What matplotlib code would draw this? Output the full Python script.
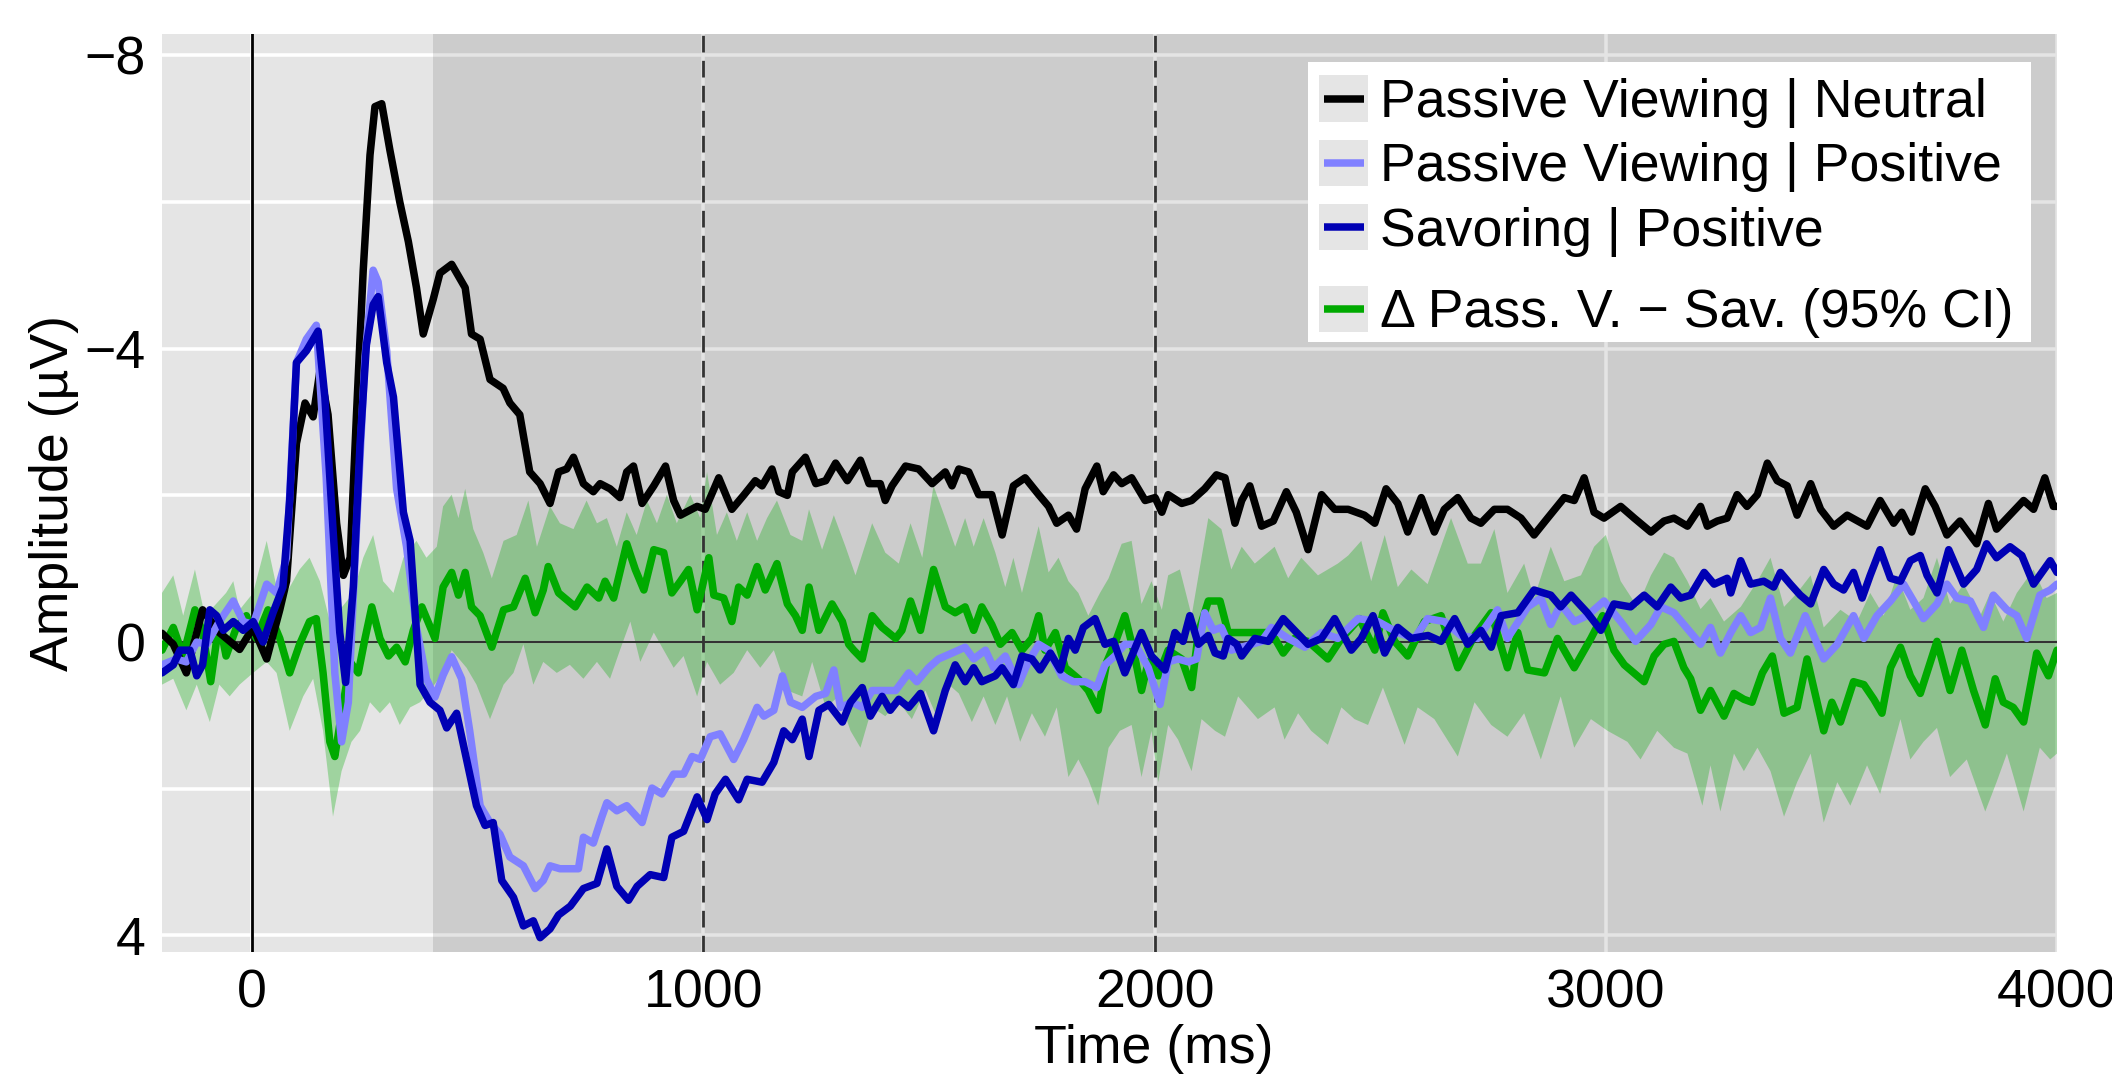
import numpy as np
import matplotlib
matplotlib.use('Agg')
import matplotlib.pyplot as plt
from matplotlib.lines import Line2D
from matplotlib.patches import Rectangle
from matplotlib.legend_handler import HandlerBase
from matplotlib.ticker import FixedLocator

plt.rcParams['font.family'] = ['Liberation Sans', 'DejaVu Sans']

# (time in ms, amplitude in uV)
neutral = [
    (-200, -0.12), (-175, 0.03), (-146, 0.42), (-110, -0.44), (-73, -0.13), (-28, 0.10), (2, -0.20),
    (32, 0.23), (61, -0.44), (76, -0.83), (98, -2.71), (117, -3.26), (135, -3.07), (150, -3.70),
    (168, -3.10), (187, -1.62), (202, -0.91), (217, -1.15), (231, -3.10), (246, -5.07), (261, -6.64),
    (272, -7.30), (287, -7.34), (305, -6.71), (327, -6.00), (346, -5.46), (364, -4.83), (379, -4.20),
    (401, -4.67), (416, -5.03), (442, -5.15), (472, -4.83), (486, -4.20), (505, -4.13), (527, -3.58),
    (556, -3.46), (571, -3.26), (593, -3.10), (615, -2.32), (638, -2.16), (660, -1.89), (679, -2.32),
    (697, -2.36), (712, -2.52), (734, -2.16), (756, -2.05), (771, -2.16), (793, -2.09), (815, -1.97),
    (830, -2.32), (845, -2.40), (864, -1.89), (890, -2.13), (916, -2.40), (934, -1.93), (949, -1.73),
    (986, -1.85), (1004, -1.81), (1034, -2.24), (1063, -1.81), (1089, -2.00), (1115, -2.20),
    (1130, -2.13), (1152, -2.36), (1167, -2.05), (1186, -2.00), (1197, -2.32), (1226, -2.52),
    (1249, -2.16), (1271, -2.20), (1293, -2.44), (1319, -2.20), (1348, -2.48), (1367, -2.16),
    (1392, -2.16), (1403, -1.93), (1418, -2.13), (1448, -2.40), (1477, -2.36), (1507, -2.16),
    (1536, -2.32), (1551, -2.13), (1566, -2.36), (1588, -2.32), (1610, -2.01), (1639, -2.01),
    (1662, -1.46), (1687, -2.13), (1713, -2.24), (1743, -2.01), (1765, -1.85), (1783, -1.62),
    (1809, -1.73), (1827, -1.54), (1846, -2.09), (1872, -2.40), (1886, -2.05), (1909, -2.28),
    (1927, -2.16), (1949, -2.24), (1979, -1.93), (2001, -1.97), (2016, -1.77), (2030, -2.01),
    (2060, -1.89), (2082, -1.93), (2111, -2.09), (2137, -2.28), (2156, -2.24), (2178, -1.62),
    (2193, -1.93), (2211, -2.13), (2237, -1.58), (2263, -1.65), (2292, -2.05), (2314, -1.77),
    (2340, -1.26), (2370, -2.01), (2399, -1.81), (2429, -1.81), (2465, -1.73), (2488, -1.62),
    (2513, -2.09), (2539, -1.89), (2561, -1.50), (2591, -1.97), (2620, -1.50), (2642, -1.81),
    (2672, -1.97), (2701, -1.69), (2723, -1.62), (2753, -1.81), (2782, -1.81), (2812, -1.69),
    (2841, -1.46), (2871, -1.69), (2908, -1.97), (2930, -1.93), (2952, -2.24), (2974, -1.77),
    (2996, -1.69), (3033, -1.85), (3063, -1.69), (3100, -1.50), (3129, -1.65), (3151, -1.69),
    (3181, -1.58), (3210, -1.85), (3225, -1.58), (3247, -1.65), (3269, -1.69), (3291, -2.01),
    (3313, -1.85), (3336, -2.01), (3358, -2.44), (3380, -2.20), (3402, -2.13), (3424, -1.73),
    (3454, -2.16), (3476, -1.81), (3505, -1.58), (3535, -1.73), (3579, -1.58), (3608, -1.93),
    (3638, -1.62), (3656, -1.77), (3678, -1.50), (3708, -2.09), (3730, -1.85), (3756, -1.46),
    (3785, -1.65), (3822, -1.34), (3848, -1.89), (3866, -1.54), (3889, -1.69), (3926, -1.93),
    (3948, -1.81), (3973, -2.24), (3992, -1.85), (4000, -1.85),
]

positive = [
    (-200, 0.31), (-168, 0.23), (-146, 0.27), (-123, 0.00), (-101, 0.03), (-73, -0.28), (-42, -0.56),
    (-20, -0.28), (2, -0.24), (32, -0.79), (54, -0.67), (76, -1.15), (98, -3.81), (120, -4.13),
    (142, -4.32), (164, -2.24), (183, 0.42), (198, 1.36), (213, 0.82), (231, -1.54), (250, -3.89),
    (268, -5.07), (279, -4.91), (298, -3.97), (320, -2.09), (342, -1.30), (364, -0.20), (386, 0.50),
    (405, 0.75), (423, 0.45), (442, 0.20), (464, 0.50), (482, 1.21), (505, 2.23), (527, 2.46),
    (549, 2.62), (571, 2.93), (601, 3.05), (627, 3.36), (645, 3.25), (660, 3.05), (682, 3.09),
    (708, 3.09), (723, 3.09), (734, 2.66), (756, 2.74), (775, 2.38), (786, 2.19), (808, 2.30),
    (830, 2.23), (864, 2.46), (886, 1.99), (908, 2.07), (934, 1.80), (956, 1.80), (975, 1.56),
    (993, 1.60), (1015, 1.29), (1037, 1.25), (1067, 1.60), (1089, 1.33), (1119, 0.89), (1134, 1.01),
    (1156, 0.93), (1175, 0.46), (1193, 0.82), (1219, 0.89), (1249, 0.74), (1271, 0.70), (1289, 0.38),
    (1304, 0.89), (1330, 0.82), (1352, 0.89), (1374, 0.66), (1400, 0.66), (1426, 0.66), (1455, 0.42),
    (1473, 0.54), (1499, 0.35), (1521, 0.23), (1551, 0.15), (1580, 0.07), (1599, 0.23), (1625, 0.11),
    (1643, 0.35), (1669, 0.19), (1698, 0.58), (1717, 0.31), (1743, 0.03), (1765, 0.11), (1794, 0.46),
    (1820, 0.54), (1846, 0.54), (1872, 0.62), (1890, 0.31), (1912, 0.19), (1934, 0.03), (1957, 0.03),
    (1986, 0.35), (2012, 0.85), (2030, 0.27), (2052, 0.23), (2075, 0.27), (2093, 0.23), (2111, -0.40),
    (2130, -0.16), (2148, -0.20), (2170, 0.11), (2193, 0.07), (2237, -0.01), (2259, -0.20),
    (2296, -0.05), (2333, 0.07), (2370, -0.13), (2406, -0.05), (2451, -0.32), (2495, -0.28),
    (2539, -0.13), (2576, -0.05), (2605, -0.32), (2642, -0.28), (2679, -0.09), (2716, -0.05),
    (2760, -0.44), (2782, -0.05), (2827, -0.48), (2856, -0.60), (2878, -0.24), (2900, -0.52),
    (2930, -0.28), (2959, -0.36), (2996, -0.56), (3033, -0.28), (3066, -0.01), (3100, -0.24),
    (3122, -0.48), (3151, -0.40), (3173, -0.24), (3188, -0.13), (3210, 0.03), (3232, -0.20),
    (3254, 0.15), (3277, -0.13), (3299, -0.36), (3321, -0.13), (3343, -0.20), (3365, -0.60),
    (3387, -0.05), (3409, 0.15), (3442, -0.36), (3483, 0.23), (3513, 0.03), (3549, -0.36),
    (3572, -0.05), (3601, -0.36), (3631, -0.56), (3660, -0.79), (3682, -0.56), (3704, -0.32),
    (3734, -0.52), (3756, -0.79), (3778, -0.60), (3808, -0.56), (3837, -0.20), (3859, -0.64),
    (3889, -0.44), (3911, -0.36), (3933, -0.05), (3962, -0.64), (3985, -0.71), (4000, -0.79),
]

savoring = [
    (-200, 0.42), (-175, 0.31), (-160, 0.11), (-138, 0.11), (-123, 0.46), (-110, 0.31), (-94, -0.44),
    (-79, -0.36), (-64, -0.16), (-42, -0.28), (-20, -0.16), (2, -0.28), (24, 0.00), (46, -0.40),
    (68, -0.75), (83, -1.93), (98, -3.81), (120, -3.97), (146, -4.24), (161, -3.34), (179, -1.54),
    (194, -0.13), (207, 0.55), (224, -0.75), (239, -2.71), (253, -4.05), (268, -4.60), (279, -4.71),
    (298, -3.81), (313, -3.34), (335, -1.77), (350, -1.38), (372, 0.58), (394, 0.82), (416, 0.93),
    (431, 1.17), (453, 0.97), (475, 1.60), (497, 2.23), (516, 2.50), (534, 2.46), (553, 3.25),
    (579, 3.48), (601, 3.87), (623, 3.80), (638, 4.03), (660, 3.91), (679, 3.72), (705, 3.60),
    (734, 3.36), (764, 3.29), (786, 2.82), (808, 3.33), (834, 3.52), (853, 3.33), (882, 3.17),
    (912, 3.21), (930, 2.66), (956, 2.58), (986, 2.11), (1008, 2.42), (1026, 2.07), (1049, 1.87),
    (1078, 2.15), (1097, 1.87), (1130, 1.91), (1156, 1.64), (1178, 1.21), (1197, 1.33), (1219, 1.05),
    (1234, 1.56), (1256, 0.93), (1278, 0.85), (1308, 1.09), (1326, 0.82), (1352, 0.62), (1370, 1.01),
    (1396, 0.74), (1414, 0.93), (1433, 0.78), (1455, 0.89), (1481, 0.70), (1510, 1.21), (1536, 0.66),
    (1558, 0.31), (1580, 0.54), (1599, 0.35), (1617, 0.54), (1647, 0.46), (1662, 0.35), (1687, 0.58),
    (1706, 0.19), (1728, 0.23), (1746, 0.38), (1769, 0.15), (1791, 0.38), (1809, -0.05), (1824, 0.11),
    (1842, -0.20), (1868, -0.32), (1890, 0.03), (1909, -0.01), (1934, 0.42), (1971, -0.13),
    (1993, 0.19), (2023, 0.38), (2045, -0.13), (2063, -0.01), (2078, -0.36), (2097, 0.03),
    (2119, -0.09), (2134, 0.15), (2152, 0.19), (2163, -0.05), (2182, 0.03), (2193, 0.19),
    (2222, -0.05), (2252, -0.01), (2285, -0.32), (2310, -0.16), (2340, 0.03), (2370, -0.05),
    (2399, -0.32), (2436, 0.11), (2458, -0.05), (2484, -0.36), (2510, 0.15), (2539, -0.20),
    (2569, -0.05), (2606, -0.09), (2635, -0.01), (2665, -0.32), (2694, 0.03), (2723, -0.16),
    (2746, 0.07), (2768, -0.36), (2805, -0.40), (2841, -0.71), (2878, -0.64), (2900, -0.48),
    (2923, -0.64), (2959, -0.40), (2989, -0.16), (3018, -0.52), (3055, -0.48), (3085, -0.64),
    (3114, -0.48), (3144, -0.75), (3166, -0.60), (3188, -0.64), (3218, -0.95), (3240, -0.79),
    (3269, -0.87), (3277, -0.67), (3299, -1.11), (3321, -0.79), (3350, -0.83), (3372, -0.75),
    (3387, -0.95), (3409, -0.79), (3431, -0.64), (3454, -0.52), (3483, -0.99), (3505, -0.79),
    (3527, -0.71), (3549, -0.95), (3568, -0.60), (3586, -0.91), (3608, -1.26), (3631, -0.87),
    (3653, -0.83), (3675, -1.11), (3697, -1.18), (3712, -0.91), (3734, -0.67), (3760, -1.26),
    (3793, -0.79), (3822, -0.99), (3844, -1.34), (3866, -1.15), (3896, -1.30), (3922, -1.18),
    (3948, -0.79), (3985, -1.11), (4000, -0.95),
]

difference = [
    (-200, 0.11), (-175, -0.20), (-153, 0.19), (-127, -0.44), (-110, -0.13), (-92, 0.54), (-73, -0.28),
    (-58, 0.19), (-35, -0.20), (-13, -0.36), (9, -0.05), (35, -0.44), (61, -0.05), (83, 0.42),
    (105, 0.03), (127, -0.28), (142, -0.32), (157, 0.42), (172, 1.36), (183, 1.56), (198, 0.97),
    (217, 0.27), (235, 0.42), (250, -0.05), (265, -0.48), (283, -0.05), (302, 0.19), (320, 0.07),
    (339, 0.27), (357, -0.16), (376, -0.48), (405, -0.05), (423, -0.75), (442, -0.95), (457, -0.64),
    (472, -0.95), (486, -0.48), (505, -0.36), (531, 0.07), (557, -0.44), (579, -0.48), (605, -0.87),
    (627, -0.40), (645, -0.71), (656, -1.03), (679, -0.67), (716, -0.48), (742, -0.75), (768, -0.60),
    (782, -0.83), (801, -0.60), (830, -1.34), (849, -0.99), (868, -0.71), (890, -1.26), (912, -1.22),
    (930, -0.67), (949, -0.83), (967, -0.99), (986, -0.44), (1012, -1.15), (1023, -0.64),
    (1045, -0.60), (1063, -0.28), (1078, -0.75), (1097, -0.64), (1119, -1.03), (1137, -0.71),
    (1163, -1.07), (1186, -0.52), (1204, -0.36), (1219, -0.16), (1234, -0.75), (1256, -0.16),
    (1285, -0.52), (1308, -0.28), (1322, 0.03), (1333, 0.11), (1352, 0.23), (1374, -0.36),
    (1396, -0.20), (1426, -0.05), (1440, -0.16), (1459, -0.56), (1481, -0.16), (1510, -0.99),
    (1536, -0.48), (1558, -0.40), (1580, -0.48), (1599, -0.16), (1617, -0.48), (1639, -0.24),
    (1658, 0.03), (1684, -0.13), (1706, 0.11), (1728, -0.05), (1743, -0.36), (1757, 0.11),
    (1780, -0.13), (1802, 0.35), (1831, 0.50), (1853, 0.66), (1875, 0.93), (1894, 0.27),
    (1916, -0.05), (1934, -0.36), (1953, 0.11), (1971, 0.66), (1986, 0.27), (2008, 0.46),
    (2030, 0.11), (2060, 0.23), (2082, 0.62), (2097, -0.13), (2119, -0.56), (2145, -0.56),
    (2163, -0.13), (2185, -0.13), (2222, -0.13), (2259, -0.13), (2285, 0.15), (2310, -0.05),
    (2340, -0.01), (2384, 0.23), (2414, -0.05), (2454, -0.32), (2488, 0.11), (2506, -0.40),
    (2532, -0.01), (2561, 0.19), (2598, -0.28), (2635, -0.36), (2672, 0.35), (2709, -0.09),
    (2746, -0.40), (2782, 0.35), (2805, -0.13), (2827, 0.38), (2864, 0.42), (2893, -0.05),
    (2930, 0.35), (2967, -0.05), (2993, -0.36), (3018, 0.11), (3041, 0.31), (3085, 0.54),
    (3107, 0.19), (3129, 0.03), (3151, -0.01), (3173, 0.35), (3188, 0.50), (3210, 0.93),
    (3232, 0.66), (3262, 1.01), (3284, 0.70), (3306, 0.78), (3324, 0.82), (3347, 0.42), (3369, 0.19),
    (3395, 0.97), (3424, 0.89), (3446, 0.23), (3483, 1.21), (3501, 0.82), (3520, 1.09), (3549, 0.54),
    (3572, 0.58), (3594, 0.78), (3612, 0.97), (3631, 0.35), (3653, 0.07), (3675, 0.46), (3697, 0.70),
    (3734, -0.01), (3763, 0.66), (3789, 0.11), (3815, 0.66), (3841, 1.13), (3863, 0.50), (3881, 0.82),
    (3903, 0.89), (3926, 1.09), (3955, 0.15), (3981, 0.46), (4000, 0.11),
]

# 95% CI of the difference: upper (more negative) and lower edge
ci_top = [
    (-200, -0.67), (-175, -0.91), (-153, -0.36), (-127, -0.99), (-105, -0.36), (-86, -0.48),
    (-58, -0.67), (-42, -0.83), (-28, -0.44), (2, -0.67), (32, -1.38), (54, -0.75), (76, -0.67),
    (105, -0.99), (127, -1.15), (150, -0.83), (172, -0.28), (194, -0.44), (224, -0.67), (246, -1.15),
    (268, -1.46), (290, -0.83), (313, -0.67), (335, -1.15), (364, -1.38), (386, -1.15), (409, -1.30),
    (423, -1.85), (442, -2.01), (457, -1.69), (472, -2.09), (490, -1.54), (512, -1.22), (531, -0.87),
    (557, -1.38), (586, -1.46), (612, -1.93), (631, -1.30), (660, -1.85), (682, -1.62), (712, -1.54),
    (741, -1.93), (764, -1.62), (786, -1.69), (808, -1.30), (830, -1.77), (852, -1.46), (875, -1.93),
    (897, -1.62), (919, -2.01), (941, -1.62), (971, -2.01), (993, -1.69), (1008, -2.32),
    (1030, -1.46), (1052, -1.77), (1074, -1.38), (1097, -1.77), (1119, -1.38), (1141, -1.69),
    (1163, -1.93), (1193, -1.46), (1219, -1.38), (1234, -1.81), (1263, -1.26), (1289, -1.73),
    (1315, -1.30), (1337, -0.91), (1374, -1.62), (1403, -1.22), (1433, -1.07), (1459, -1.62),
    (1485, -1.15), (1510, -2.13), (1536, -1.69), (1558, -1.30), (1580, -1.69), (1599, -1.30),
    (1621, -1.69), (1647, -1.22), (1669, -0.75), (1687, -1.15), (1706, -0.67), (1743, -1.58),
    (1765, -0.95), (1787, -1.15), (1809, -0.83), (1831, -0.67), (1853, -0.36), (1879, -0.67),
    (1898, -0.87), (1927, -1.34), (1949, -1.38), (1971, -0.52), (1993, -0.83), (2016, -0.44),
    (2030, -0.91), (2056, -0.99), (2082, -0.36), (2119, -1.69), (2148, -1.54), (2170, -0.99),
    (2193, -1.30), (2222, -1.07), (2266, -1.30), (2296, -0.87), (2325, -1.15), (2362, -0.91),
    (2406, -1.07), (2429, -1.18), (2458, -1.38), (2480, -0.83), (2510, -1.46), (2539, -0.75),
    (2569, -0.99), (2605, -0.79), (2657, -1.69), (2694, -1.07), (2723, -1.07), (2753, -1.54),
    (2782, -0.67), (2819, -1.07), (2841, -0.60), (2878, -1.30), (2908, -0.83), (2945, -0.91),
    (2974, -1.30), (3000, -1.46), (3033, -0.83), (3070, -0.48), (3100, -0.91), (3129, -1.22),
    (3151, -1.15), (3181, -0.83), (3210, -0.45), (3232, -0.60), (3262, -0.28), (3299, -0.48),
    (3336, -0.83), (3365, -1.15), (3395, -0.48), (3424, -0.67), (3454, -0.91), (3483, -0.20),
    (3520, -0.44), (3557, -0.28), (3586, -0.67), (3616, -0.36), (3645, -0.91), (3675, -0.44),
    (3704, -0.60), (3734, -1.15), (3763, -0.52), (3793, -0.79), (3830, -0.36), (3852, -0.67),
    (3881, -0.28), (3911, -0.67), (3948, -0.99), (3977, -0.60), (4000, -0.67),
]

ci_bottom = [
    (-200, 0.58), (-175, 0.50), (-146, 0.93), (-123, 0.58), (-94, 1.09), (-73, 0.58), (-50, 0.74),
    (-28, 0.58), (2, 0.42), (32, 0.27), (54, 0.42), (83, 1.21), (113, 0.74), (135, 0.50), (157, 1.21),
    (179, 2.38), (198, 1.76), (220, 1.36), (239, 1.21), (261, 0.82), (283, 0.97), (305, 0.82),
    (327, 1.13), (350, 0.89), (372, 0.82), (394, 0.66), (423, 0.42), (442, 0.11), (453, 0.19),
    (475, 0.35), (497, 0.58), (527, 1.05), (557, 0.58), (579, 0.42), (601, 0.03), (623, 0.58),
    (645, 0.27), (675, 0.42), (704, 0.31), (734, 0.50), (764, 0.27), (793, 0.50), (815, 0.11),
    (838, -0.28), (860, 0.27), (890, -0.13), (912, 0.11), (934, 0.35), (956, 0.19), (986, 0.74),
    (1008, 0.27), (1037, 0.58), (1067, 0.42), (1097, 0.11), (1126, 0.35), (1156, 0.11), (1186, 0.66),
    (1219, 0.74), (1241, 0.27), (1271, 0.89), (1300, 0.74), (1326, 1.21), (1348, 1.44), (1374, 0.89),
    (1403, 1.01), (1433, 0.82), (1462, 1.05), (1492, 0.66), (1514, 0.97), (1544, 0.58), (1566, 0.70),
    (1595, 1.09), (1621, 0.74), (1647, 1.13), (1673, 0.74), (1702, 1.36), (1728, 0.97), (1757, 1.29),
    (1783, 0.89), (1809, 1.84), (1831, 1.60), (1853, 1.87), (1875, 2.23), (1898, 1.44), (1923, 1.21),
    (1949, 1.13), (1971, 1.84), (1993, 1.21), (2008, 1.91), (2030, 1.13), (2052, 1.33), (2082, 1.76),
    (2104, 1.05), (2134, 1.21), (2156, 1.29), (2185, 0.74), (2229, 1.05), (2266, 0.89), (2288, 1.33),
    (2318, 0.97), (2347, 1.21), (2384, 1.40), (2414, 0.89), (2443, 1.05), (2473, 1.13), (2506, 0.62),
    (2554, 1.40), (2583, 0.89), (2620, 1.05), (2672, 1.56), (2709, 0.82), (2746, 1.13), (2782, 1.29),
    (2819, 0.97), (2856, 1.60), (2900, 0.74), (2930, 1.44), (2967, 1.05), (3004, 1.21), (3048, 1.36),
    (3077, 1.60), (3114, 1.21), (3151, 1.44), (3181, 1.52), (3214, 2.23), (3232, 1.68), (3254, 2.31),
    (3284, 1.52), (3306, 1.76), (3336, 1.44), (3365, 1.76), (3395, 2.38), (3424, 1.91), (3454, 1.52),
    (3483, 2.46), (3513, 1.91), (3542, 2.23), (3579, 1.68), (3608, 2.07), (3653, 1.05), (3675, 1.60),
    (3704, 1.36), (3734, 1.17), (3763, 1.84), (3800, 1.60), (3841, 2.31), (3866, 1.91), (3889, 1.52),
    (3926, 2.31), (3962, 1.44), (3985, 1.60), (4000, 1.52),
]

labels = ['Passive Viewing | Neutral', 'Passive Viewing | Positive', 'Savoring | Positive',
          '\u0394 Pass. V. \u2212 Sav. (95% CI)']
colors = ['#000000', '#8080ff', '#0000b4', '#00aa00']
fs = 19.3


class KeyHandler(HandlerBase):
    # grey key square with a short line, like a ggplot legend key
    def create_artists(self, legend, orig_handle, xdescent, ydescent, width, height, fontsize, trans):
        bg = Rectangle((-xdescent, -ydescent), width, height, facecolor='#e5e5e5',
                       edgecolor='none', transform=trans)
        y = -ydescent + height / 2
        ln = Line2D([-xdescent + 0.1 * width, -xdescent + 0.9 * width], [y, y],
                    color=orig_handle.get_color(), lw=orig_handle.get_linewidth(),
                    solid_capstyle='butt', transform=trans)
        return [bg, ln]


fig = plt.figure(figsize=(10.56, 5.4), dpi=200)
ax = fig.add_axes([162 / 2112, 1 - 952 / 1080, 1895 / 2112, 918 / 1080])
ax.set_facecolor('#e5e5e5')
for s in ax.spines.values():
    s.set_visible(False)

lw = 2.7
# darker band after 400 ms
ax.axvspan(400, 4000, color='black', alpha=0.105, lw=0, zorder=1)

top_t, top_v = np.array(ci_top).T
bot_t, bot_v = np.array(ci_bottom).T
ax.fill(np.r_[top_t, bot_t[::-1]], np.r_[top_v, bot_v[::-1]], color='#00aa00', alpha=0.3,
        lw=0, zorder=1.2)

ax.axhline(0, color='#333333', lw=0.8, zorder=1.4)
ax.axvline(0, color='black', lw=1.0, zorder=1.5)
for xv in [1000, 2000]:
    ax.axvline(xv, color='#333333', lw=1.0, ls=(0, (6, 3)), zorder=1.5)

handles = []
for data, c, z in [(difference, colors[3], 2.0), (neutral, colors[0], 2.1),
                   (positive, colors[1], 2.2), (savoring, colors[2], 2.3)]:
    t, v = np.array(data).T
    h, = ax.plot(t, v, color=c, lw=lw, zorder=z, solid_joinstyle='round', solid_capstyle='round')
    handles.append(h)
h_diff, h_neu, h_pos, h_sav = handles

ax.set_xlim(-200, 4000)
ax.set_ylim(4.225, -8.29)
ax.set_xticks([0, 1000, 2000, 3000, 4000])
ax.set_yticks([-8, -4, 0, 4])
ax.yaxis.set_minor_locator(FixedLocator([-6, -2, 2]))
ax.set_axisbelow(True)
ax.grid(which='both', axis='y', color='white', lw=1.3)
ax.grid(which='major', axis='x', color='white', lw=1.3)
ax.tick_params(which='both', length=0, labelsize=fs, pad=6, colors='black')
ax.set_xlabel('Time (ms)', fontsize=fs, labelpad=2)
ax.xaxis.label.set_x(0.5235)
ax.set_ylabel('Amplitude (\u00b5V)', fontsize=fs, labelpad=2)

# legend box
bx0, bx1, by0, by1 = 0.6047, 0.9863, 0.6645, 0.9695
ax.add_patch(Rectangle((bx0, by0), bx1 - bx0, by1 - by0, transform=ax.transAxes,
                       facecolor='white', edgecolor='none', zorder=4))
leg_kw = dict(handler_map={Line2D: KeyHandler()}, loc='upper left', bbox_transform=ax.transAxes,
              frameon=False, borderpad=0.2, borderaxespad=0, handlelength=0.93, handleheight=0.95,
              handletextpad=0.22, labelspacing=0.22, fontsize=fs)
leg1 = ax.legend([h_neu, h_pos, h_sav], labels[:3], bbox_to_anchor=(bx0, by1 - 0.003), **leg_kw)
ax.add_artist(leg1)
ax.legend([h_diff], labels[3:], bbox_to_anchor=(bx0, 1 - (275 - 34) / 918), **leg_kw)

fig.savefig('out.png', dpi=200, facecolor='white')
